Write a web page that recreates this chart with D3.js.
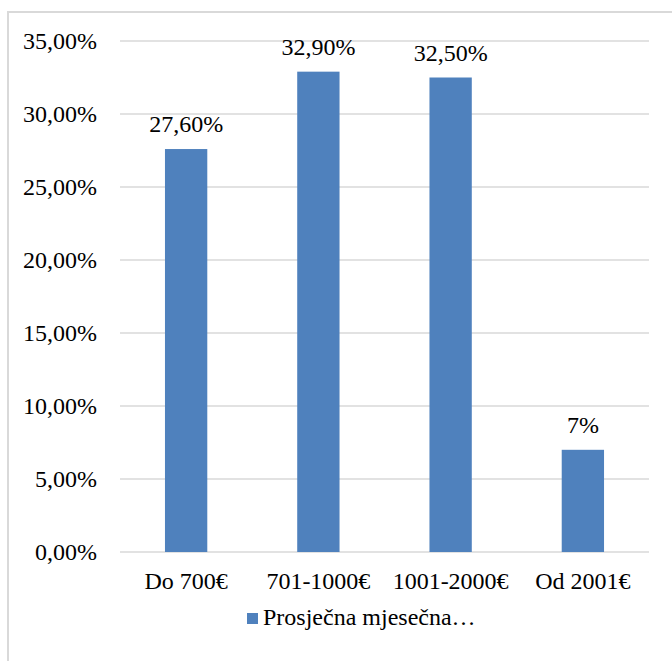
<!DOCTYPE html>
<html>
<head>
<meta charset="utf-8">
<script src="https://cdn.jsdelivr.net/npm/d3@7"></script>
<style>
  html, body { margin: 0; padding: 0; background: #fff; }
  svg { display: block; }
</style>
</head>
<body>
<svg id="chart" width="672" height="661" font-family="Liberation Serif" font-size="24"></svg>
<script>
const categories = ["Do 700€", "701-1000€", "1001-2000€", "Od 2001€"];
const values = [27.6, 32.9, 32.5, 7];
const valueLabels = ["27,60%", "32,90%", "32,50%", "7%"];
const yTicks = [0, 5, 10, 15, 20, 25, 30, 35];
const seriesName = "Prosječna mjesečna…";

const svg = d3.select("#chart");
const W = 672, H = 661;
const plot = { left: 120, right: 649, top: 41, bottom: 552 };

function styleText(sel) {
  sel.attr("font-family", "Liberation Serif").attr("font-size", 24).attr("fill", "#000");
}

// chart border (top & left visible)
svg.append("rect")
  .attr("x", 8).attr("y", 12)
  .attr("width", W + 10).attr("height", H + 10)
  .attr("fill", "none").attr("stroke", "#d9d9d9").attr("stroke-width", 2);

const x = d3.scaleBand().domain(categories).range([plot.left, plot.right])
  .paddingInner(0.68).paddingOuter(0.34);
const y = d3.scaleLinear().domain([0, 35]).range([plot.bottom, plot.top]);

const fmt = d => d3.format(".2f")(d).replace(".", ",") + "%";

// gridlines
svg.append("g").selectAll("line").data(yTicks).join("line")
  .attr("x1", plot.left).attr("x2", plot.right)
  .attr("y1", d => y(d)).attr("y2", d => y(d))
  .attr("stroke", "#d9d9d9").attr("stroke-width", 1.5);

// y axis labels
const yAxis = d3.axisLeft(y).tickValues(yTicks).tickFormat(fmt).tickSize(0).tickPadding(23);
const gy = svg.append("g").attr("transform", `translate(${plot.left},0)`).call(yAxis);
gy.attr("font-family", "Liberation Serif").attr("font-size", 24);
gy.select(".domain").remove();
gy.selectAll("text").call(styleText);

// bars
svg.append("g").selectAll("rect").data(values).join("rect")
  .attr("x", (d, i) => x(categories[i]))
  .attr("width", x.bandwidth())
  .attr("y", d => y(d))
  .attr("height", d => y(0) - y(d))
  .attr("fill", "#4f81bd");

// value labels
svg.append("g").selectAll("text").data(values).join("text")
  .attr("x", (d, i) => x(categories[i]) + x.bandwidth() / 2)
  .attr("y", d => y(d) - 17)
  .attr("text-anchor", "middle")
  .call(styleText)
  .text((d, i) => valueLabels[i]);

// x axis labels
const xAxis = d3.axisBottom(x).tickSize(0).tickPadding(0);
const gx = svg.append("g").attr("transform", `translate(0,${plot.bottom})`).call(xAxis);
gx.attr("font-family", "Liberation Serif").attr("font-size", 24);
gx.select(".domain").remove();
gx.selectAll("text").call(styleText).attr("dy", null).attr("y", 37);

// legend
const lg = svg.append("g").attr("transform", "translate(247,613)");
lg.append("rect").attr("width", 11).attr("height", 11).attr("fill", "#4f81bd");
lg.append("text").attr("x", 16).attr("y", 12).call(styleText).text(seriesName);
</script>
</body>
</html>
